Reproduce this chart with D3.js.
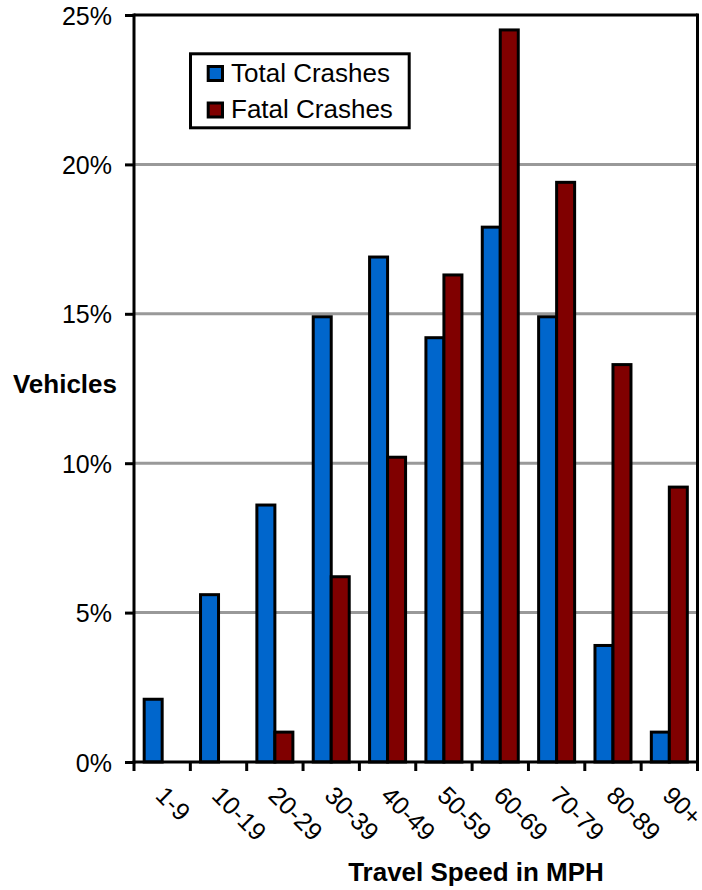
<!DOCTYPE html>
<html>
<head>
<meta charset="utf-8">
<script src="https://cdn.jsdelivr.net/npm/d3@7"></script>
<style>
  html, body { margin: 0; padding: 0; background: #ffffff; }
  svg { display: block; font-family: "Liberation Sans", Arial, Helvetica, sans-serif; }
</style>
</head>
<body>
<svg id="chart" width="702" height="890"></svg>
<script>
// ---- data ----
const categories = ["1-9", "10-19", "20-29", "30-39", "40-49", "50-59", "60-69", "70-79", "80-89", "90+"];
const totalCrashes = [2.1, 5.6, 8.6, 14.9, 16.9, 14.2, 17.9, 14.9, 3.9, 1.0];
const fatalCrashes = [0, 0, 1.0, 6.2, 10.2, 16.3, 24.5, 19.4, 13.3, 9.2];
const seriesNames = ["Total Crashes", "Fatal Crashes"];
const yTicks = [0, 5, 10, 15, 20, 25];
const yTickLabels = ["0%", "5%", "10%", "15%", "20%", "25%"];
const yTitle = "Vehicles";
const xTitle = "Travel Speed in MPH";

// ---- layout ----
const colors = ["#0066CC", "#800000"];
const plot = { left: 134, right: 697.5, top: 15, bottom: 762 };

const svg = d3.select("#chart");

const x = d3.scaleBand().domain(categories).range([plot.left, plot.right]).padding(0);
const y = d3.scaleLinear().domain([0, 25]).range([plot.bottom, plot.top]);

// gridlines
svg.append("g").selectAll("line")
  .data(yTicks.filter(t => t > 0 && t < 25))
  .join("line")
  .attr("x1", plot.left).attr("x2", plot.right)
  .attr("y1", d => y(d)).attr("y2", d => y(d))
  .attr("stroke", "#999999").attr("stroke-width", 3);

// top and right border
svg.append("line")
  .attr("x1", plot.left).attr("x2", plot.right)
  .attr("y1", y(25)).attr("y2", y(25))
  .attr("stroke", "#000").attr("stroke-width", 3);
svg.append("line")
  .attr("x1", plot.right).attr("x2", plot.right)
  .attr("y1", y(25) - 1.5).attr("y2", plot.bottom)
  .attr("stroke", "#000").attr("stroke-width", 3);

// bars
const barW = 18;
const rows = categories.map((c, i) => ({ c, vals: [totalCrashes[i], fatalCrashes[i]] }));
const groups = svg.append("g").selectAll("g")
  .data(rows).join("g")
  .attr("transform", d => `translate(${x(d.c) + x.bandwidth() / 2},0)`);
groups.selectAll("rect")
  .data(d => d.vals.map((v, k) => ({ v, k })).filter(e => e.v > 0))
  .join("rect")
  .attr("x", e => e.k === 0 ? -barW : 0)
  .attr("width", barW)
  .attr("y", e => y(e.v))
  .attr("height", e => y(0) - y(e.v))
  .attr("fill", e => colors[e.k])
  .attr("stroke", "#000")
  .attr("stroke-width", 3);

// y axis
const yAxis = d3.axisLeft(y).tickValues(yTicks)
  .tickFormat((d, i) => yTickLabels[i]).tickSize(9).tickPadding(13);
const gy = svg.append("g").attr("transform", `translate(${plot.left},0)`).call(yAxis);
gy.select(".domain").attr("stroke", "#000").attr("stroke-width", 3)
  .attr("d", `M0,${y(25) - 1.5}V${plot.bottom + 1.5}`);
gy.selectAll(".tick line").attr("stroke", "#000").attr("stroke-width", 3);
gy.selectAll(".tick text").attr("font-size", 25).attr("fill", "#000")
  .attr("font-family", "Liberation Sans, Arial, sans-serif")
  .attr("dy", "0.36em");

// x axis
const xTickPos = categories.map(c => x(c)).concat([plot.right]);
svg.append("line")
  .attr("x1", plot.left - 1.5).attr("x2", plot.right + 1.5)
  .attr("y1", plot.bottom).attr("y2", plot.bottom)
  .attr("stroke", "#000").attr("stroke-width", 3);
svg.append("g").selectAll("line")
  .data(xTickPos).join("line")
  .attr("x1", d => d).attr("x2", d => d)
  .attr("y1", plot.bottom).attr("y2", plot.bottom + 9)
  .attr("stroke", "#000").attr("stroke-width", 3);
svg.append("g").selectAll("text")
  .data(categories).join("text")
  .attr("transform", d => `translate(${x(d) + x.bandwidth() / 2 - 8},${797}) rotate(45)`)
  .attr("font-size", 25).attr("fill", "#000")
  .text(d => d);

// axis titles
svg.append("text")
  .attr("x", 117).attr("y", 392.5).attr("text-anchor", "end")
  .attr("font-size", 26).attr("font-weight", "bold").text(yTitle);
svg.append("text")
  .attr("x", 476).attr("y", 881).attr("text-anchor", "middle")
  .attr("font-size", 26).attr("font-weight", "bold").text(xTitle);

// legend
const lg = svg.append("g");
lg.append("rect")
  .attr("x", 190.5).attr("y", 53.8).attr("width", 218.7).attr("height", 74)
  .attr("fill", "#fff").attr("stroke", "#000").attr("stroke-width", 3);
const items = lg.selectAll("g.item").data(seriesNames).join("g")
  .attr("class", "item")
  .attr("transform", (d, i) => `translate(0,${i * 36.5})`);
items.append("rect")
  .attr("x", 208.2).attr("y", 66.5).attr("width", 14.3).attr("height", 14)
  .attr("fill", (d, i) => colors[i]).attr("stroke", "#000").attr("stroke-width", 3);
items.append("text")
  .attr("x", 231).attr("y", 81.7)
  .attr("font-size", 26).attr("fill", "#000").text(d => d);
</script>
</body>
</html>
